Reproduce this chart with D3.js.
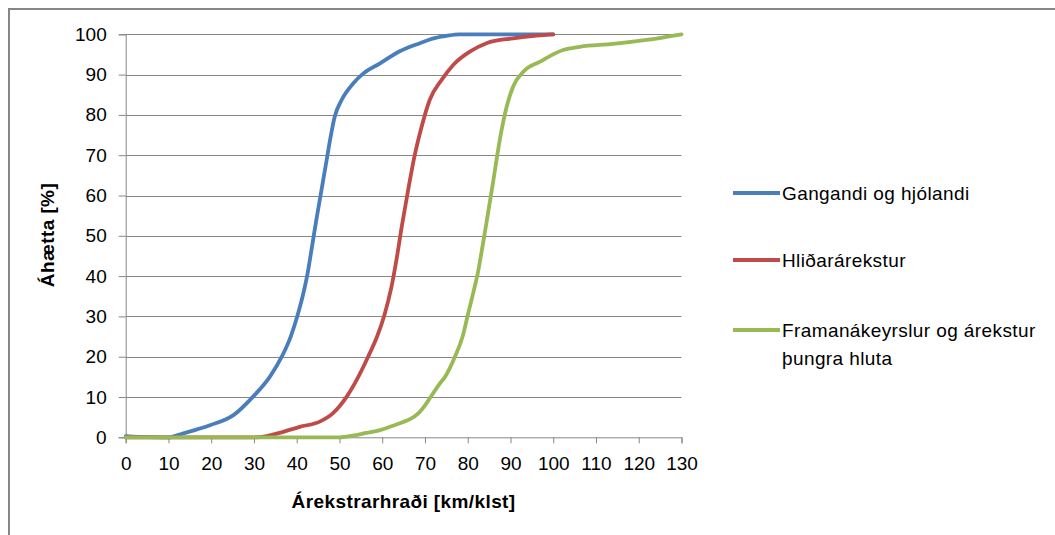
<!DOCTYPE html>
<html>
<head>
<meta charset="utf-8">
<script src="https://cdn.jsdelivr.net/npm/d3@7"></script>
<style>
  html, body { margin: 0; padding: 0; background: #fff; }
  svg { display: block; }
  text { font-family: "Liberation Sans", Arial, sans-serif; fill: #000; }
</style>
</head>
<body>
<svg id="chart" width="1055" height="535"></svg>
<script>
// ---- data ----
const xTicks = [0,10,20,30,40,50,60,70,80,90,100,110,120,130];
const yTicks = [0,10,20,30,40,50,60,70,80,90,100];
const seriesNames = ["Gangandi og hjólandi", "Hliðarárekstur", "Framanákeyrslur og árekstur\nþungra hluta"];

const blueSpeed = [0,5,10,13.5,19.7,25.2,29.8,33.7,36.5,38.6,40.2,41.5,42.6,43.6,44.6,45.8,47,47.8,48.9,50.5,53.2,55.6,59.5,64.1,68.8,72,75,78,100];
const blueRisk  = [0.3,0.05,0,1.0,3.0,5.5,10.1,15,20,25,30.3,35.5,41,47.5,54,61.4,68.8,73.8,79.6,83.7,87.8,90.3,92.8,95.8,97.8,99,99.6,100,100];

const redSpeed = [0,30,33,36,40.7,45.4,48.5,51.7,54.4,56.7,58.8,60.5,62.1,63.4,64.6,66,67.6,69.2,71.1,73.9,76.6,80.5,84.4,90.6,96.1,100];
const redRisk  = [0,0,0.3,1.1,2.6,3.9,6,10.1,15,20,25,30.3,37,44.5,52.5,61,70,77,83.7,88.7,92.4,95.7,97.8,99,99.7,100];

const greenSpeed = [0,10,45,50,53,56.3,59.5,61.8,64.1,66.5,68.5,69.8,71.2,73.5,74.7,77,78.8,80,81.3,82.4,83.4,84.5,86,87.5,89.1,90.6,93,96.9,102.3,106.2,114,121.8,130];
const greenRisk  = [0,0,0,0,0.4,1.1,1.8,2.6,3.5,4.5,6,7.6,9.8,13.4,15,20,25,30.3,35.9,41,47,54,63.8,73.8,82,87,90.7,93.2,96.1,96.9,97.6,98.6,100];

const colors = ["#4A7EBB", "#BE4B48", "#98B954"];

// ---- drawing ----
const svg = d3.select("#chart");
const gridColor = "#868686";

// outer border (top + left visible)
svg.append("path")
  .attr("d", "M9,535 L9,9 L1055,9")
  .attr("fill", "none").attr("stroke", gridColor).attr("stroke-width", 2);

const x = d3.scaleLinear().domain([0,130]).range([125.7, 681.5]);
const y = d3.scaleLinear().domain([0,100]).range([437.3, 34.3]);

// gridlines
svg.append("g").selectAll("line").data(yTicks.filter(d => d > 0)).join("line")
  .attr("x1", x(0)).attr("x2", x(130))
  .attr("y1", d => Math.round(y(d)) + 0.5).attr("y2", d => Math.round(y(d)) + 0.5)
  .attr("stroke", gridColor).attr("stroke-width", 1);

// y axis
const yAxis = svg.append("g").attr("transform", `translate(${x(0)},0)`)
  .call(d3.axisLeft(y).tickValues(yTicks).tickSize(7).tickPadding(12));
yAxis.select(".domain").attr("stroke", gridColor);
yAxis.selectAll(".tick line").attr("stroke", gridColor);
yAxis.selectAll("text").style("font-size", "19px").style("font-family", "Liberation Sans, Arial, sans-serif").attr("fill", "#000");

// x axis
const xAxis = svg.append("g").attr("transform", `translate(0,${y(0)})`)
  .call(d3.axisBottom(x).tickValues(xTicks).tickSize(6).tickPadding(13));
xAxis.select(".domain").attr("stroke", gridColor);
xAxis.selectAll(".tick line").attr("stroke", gridColor);
xAxis.selectAll("text").style("font-size", "19px").style("font-family", "Liberation Sans, Arial, sans-serif").attr("fill", "#000");

// lines
const seriesData = [
  d3.zip(blueSpeed, blueRisk),
  d3.zip(redSpeed, redRisk),
  d3.zip(greenSpeed, greenRisk)
];
const line = d3.line().x(d => x(d[0])).y(d => y(d[1])).curve(d3.curveMonotoneX);
svg.append("g").selectAll("path").data(seriesData).join("path")
  .attr("d", line)
  .attr("fill", "none")
  .attr("stroke", (d, i) => colors[i])
  .attr("stroke-width", 3.8)
  .attr("stroke-linejoin", "round")
  .attr("stroke-linecap", "round");

// axis titles
svg.append("text")
  .attr("x", (x(0) + x(130)) / 2).attr("y", 508)
  .attr("text-anchor", "middle")
  .style("font-size", "19px").style("font-weight", "bold").style("letter-spacing", "0.4px")
  .text("Árekstrarhraði [km/klst]");

svg.append("text")
  .attr("transform", "translate(54,235) rotate(-90)")
  .attr("text-anchor", "middle")
  .style("font-size", "19px").style("font-weight", "bold").style("letter-spacing", "0.4px")
  .text("Áhætta [%]");

// legend
const legendY = [193, 260, 330];
const lg = svg.append("g");
seriesNames.forEach((name, i) => {
  lg.append("line")
    .attr("x1", 733).attr("x2", 780)
    .attr("y1", legendY[i]).attr("y2", legendY[i])
    .attr("stroke", colors[i]).attr("stroke-width", 3.8);
  const t = lg.append("text")
    .attr("x", 782).attr("y", legendY[i] + 6.5)
    .style("font-size", "19px").style("letter-spacing", "0.4px");
  name.split("\n").forEach((part, j) => {
    t.append("tspan").attr("x", 782).attr("dy", j === 0 ? 0 : 28).text(part);
  });
});
</script>
</body>
</html>
